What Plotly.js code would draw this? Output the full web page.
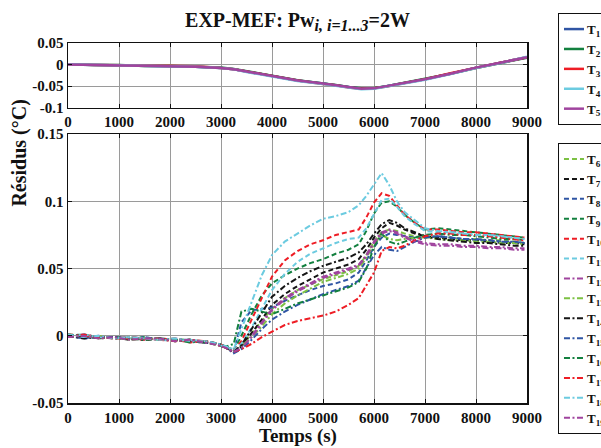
<!DOCTYPE html>
<html>
<head>
<meta charset="utf-8">
<script src="https://cdn.plot.ly/plotly-3.0.1.min.js"></script>
<style>html,body{margin:0;padding:0;background:#fff;}#chart{width:601px;height:448px;}</style>
</head>
<body>
<div id="chart"></div>
<script>
// ---------- Data ----------
var tTop = [0,500,1000,1500,2000,2500,3000,3250,3500,4000,4500,5000,5250,5500,5750,6000,6250,6500,7000,7500,8000,8500,9000];
var T1 = [0.000,-0.001,-0.002,-0.002,-0.004,-0.005,-0.008,-0.011,-0.016,-0.027,-0.037,-0.044,-0.048,-0.052,-0.056,-0.055,-0.050,-0.045,-0.034,-0.021,-0.007,0.005,0.017];
var T2 = [0.001,-0.001,-0.001,-0.003,-0.003,-0.005,-0.007,-0.010,-0.015,-0.026,-0.036,-0.044,-0.047,-0.052,-0.055,-0.054,-0.050,-0.044,-0.033,-0.021,-0.008,0.004,0.016];
var T3 = [0.000,-0.001,-0.002,-0.003,-0.004,-0.004,-0.008,-0.011,-0.016,-0.027,-0.037,-0.045,-0.048,-0.053,-0.056,-0.055,-0.051,-0.045,-0.034,-0.020,-0.007,0.005,0.017];
var T4 = [0.001,0.000,-0.002,-0.002,-0.003,-0.005,-0.008,-0.011,-0.017,-0.028,-0.038,-0.045,-0.049,-0.053,-0.057,-0.056,-0.051,-0.046,-0.035,-0.022,-0.008,0.004,0.018];
var T5 = [0.000,-0.001,-0.002,-0.003,-0.004,-0.005,-0.008,-0.011,-0.016,-0.027,-0.037,-0.044,-0.048,-0.052,-0.056,-0.055,-0.050,-0.045,-0.034,-0.021,-0.007,0.005,0.017];

var tBot = [0,300,600,900,1200,1500,1800,2100,2400,2700,2950,3100,3250,3400,3600,3800,4000,4250,4500,4750,5000,5250,5500,5700,5850,6000,6150,6300,6450,6600,6800,7000,7250,7500,7750,8000,8250,8500,8750,8950];
var T6  = [0.001,-0.001,0.000,-0.002,-0.001,-0.002,-0.003,-0.002,-0.004,-0.004,-0.006,-0.008,-0.011,-0.007,0.002,0.011,0.020,0.028,0.034,0.038,0.042,0.045,0.048,0.052,0.060,0.070,0.077,0.079,0.078,0.076,0.074,0.073,0.074,0.073,0.072,0.072,0.071,0.071,0.070,0.069];
var T7  = [-0.001,0.000,-0.002,-0.001,-0.003,-0.002,-0.002,-0.004,-0.003,-0.005,-0.007,-0.009,-0.012,-0.008,0.002,0.012,0.023,0.031,0.037,0.042,0.047,0.050,0.053,0.057,0.064,0.073,0.080,0.084,0.082,0.079,0.076,0.074,0.073,0.072,0.071,0.071,0.070,0.069,0.069,0.068];
var T8  = [0.000,-0.002,-0.001,-0.001,-0.002,-0.003,-0.002,-0.003,-0.004,-0.005,-0.006,-0.008,-0.012,0.010,0.019,0.020,0.021,0.026,0.030,0.034,0.037,0.039,0.042,0.047,0.056,0.066,0.073,0.076,0.075,0.074,0.073,0.073,0.074,0.073,0.072,0.071,0.071,0.070,0.070,0.069];
var T9  = [0.000,0.001,-0.001,-0.001,-0.002,-0.001,-0.003,-0.003,-0.003,-0.005,-0.006,-0.008,-0.011,0.000,0.016,0.030,0.039,0.045,0.050,0.054,0.057,0.061,0.064,0.068,0.078,0.091,0.099,0.100,0.096,0.090,0.084,0.079,0.080,0.079,0.078,0.077,0.076,0.075,0.074,0.073];
var T10 = [0.001,0.000,-0.001,-0.002,-0.002,-0.003,-0.002,-0.003,-0.005,-0.004,-0.006,-0.008,-0.011,-0.004,0.012,0.028,0.044,0.056,0.063,0.068,0.071,0.075,0.077,0.079,0.088,0.099,0.106,0.104,0.097,0.090,0.084,0.079,0.079,0.078,0.077,0.077,0.076,0.075,0.074,0.073];
var T11 = [-0.001,0.001,-0.001,-0.002,-0.001,-0.002,-0.003,-0.004,-0.003,-0.004,-0.007,-0.008,-0.011,-0.006,0.006,0.020,0.034,0.046,0.055,0.061,0.065,0.069,0.072,0.073,0.080,0.091,0.101,0.102,0.096,0.089,0.083,0.078,0.077,0.077,0.076,0.075,0.075,0.074,0.073,0.072];
var T12 = [0.001,-0.001,0.000,-0.002,-0.001,-0.002,-0.003,-0.002,-0.004,-0.004,-0.006,-0.009,-0.012,-0.009,0.000,0.010,0.020,0.028,0.034,0.039,0.044,0.047,0.050,0.053,0.060,0.070,0.077,0.079,0.077,0.074,0.071,0.069,0.068,0.068,0.067,0.067,0.066,0.066,0.065,0.065];
var T13 = [-0.001,0.000,-0.002,-0.001,-0.003,-0.002,-0.002,-0.004,-0.003,-0.005,-0.007,-0.009,-0.012,-0.008,-0.001,0.007,0.016,0.024,0.030,0.035,0.040,0.043,0.046,0.050,0.058,0.068,0.075,0.072,0.071,0.072,0.073,0.073,0.072,0.071,0.071,0.070,0.070,0.069,0.069,0.068];
var T14 = [0.000,-0.002,-0.001,-0.001,-0.002,-0.003,-0.002,-0.003,-0.004,-0.005,-0.006,-0.009,-0.012,-0.007,0.005,0.017,0.029,0.037,0.043,0.048,0.052,0.055,0.058,0.062,0.068,0.076,0.083,0.086,0.084,0.080,0.077,0.074,0.072,0.071,0.070,0.069,0.069,0.068,0.067,0.067];
var T15 = [0.000,0.001,-0.001,-0.001,-0.002,-0.001,-0.003,-0.003,-0.003,-0.005,-0.006,-0.009,-0.013,-0.010,-0.003,0.005,0.012,0.018,0.023,0.027,0.031,0.034,0.037,0.041,0.050,0.060,0.066,0.064,0.063,0.066,0.070,0.073,0.074,0.073,0.072,0.072,0.071,0.070,0.070,0.069];
var T16 = [0.001,0.000,-0.001,-0.002,-0.002,-0.003,-0.002,-0.003,-0.005,-0.004,-0.006,-0.008,-0.006,0.018,0.020,0.018,0.016,0.020,0.024,0.027,0.030,0.033,0.036,0.040,0.050,0.066,0.076,0.070,0.068,0.070,0.073,0.075,0.076,0.075,0.075,0.074,0.073,0.072,0.072,0.071];
var T17 = [-0.001,0.001,-0.001,-0.002,-0.001,-0.002,-0.003,-0.004,-0.003,-0.004,-0.007,-0.009,-0.012,-0.010,-0.006,-0.001,0.003,0.008,0.011,0.013,0.015,0.018,0.023,0.028,0.037,0.047,0.063,0.066,0.065,0.067,0.071,0.074,0.076,0.076,0.075,0.075,0.074,0.073,0.072,0.071];
var T18 = [0.001,-0.001,0.000,-0.002,-0.001,-0.002,-0.003,-0.002,-0.004,-0.004,-0.006,-0.008,-0.010,0.005,0.025,0.045,0.060,0.070,0.076,0.082,0.087,0.089,0.092,0.097,0.104,0.113,0.121,0.112,0.100,0.092,0.086,0.080,0.078,0.077,0.076,0.075,0.075,0.074,0.073,0.072];
var T19 = [-0.001,0.000,-0.002,-0.001,-0.003,-0.002,-0.002,-0.004,-0.003,-0.005,-0.007,-0.009,-0.012,-0.009,-0.001,0.009,0.019,0.027,0.033,0.038,0.043,0.046,0.049,0.052,0.059,0.069,0.076,0.078,0.076,0.073,0.070,0.068,0.067,0.067,0.066,0.066,0.065,0.065,0.064,0.064];

var xTicks = [0,1000,2000,3000,4000,5000,6000,7000,8000,9000];
var yTopTicks = [-0.1,-0.05,0,0.05];
var yTopText = ['-0.1','-0.05','0','0.05'];
var yBotTicks = [-0.05,0,0.05,0.1,0.15];
var yBotText = ['-0.05','0','0.05','0.1','0.15'];

var titleText = 'EXP-MEF: Pw<sub><span style="font-size:16px"><i>i, i=1...3</i></span></sub>=2W';
var yLabel = 'Résidus (°C)';
var xLabel = 'Temps (s)';

// ---------- Styles ----------
var C = {blue:'#2f55a4', green:'#13803f', red:'#ee1d25', cyan:'#6ccbe0', purple:'#a0449e', lgreen:'#7cc143', black:'#151515'};
var FAM = '"Liberation Serif", "Times New Roman", serif';
var DASH = '5px,3px';
var DASHDOT = '6px,2.5px,2px,2.5px';

var topSeries = [
  {y:T1, name:'T<sub>1</sub>', color:C.blue},
  {y:T2, name:'T<sub>2</sub>', color:C.green},
  {y:T3, name:'T<sub>3</sub>', color:C.red},
  {y:T4, name:'T<sub>4</sub>', color:C.cyan},
  {y:T5, name:'T<sub>5</sub>', color:C.purple}
];
var botSeries = [
  {y:T6,  name:'T<sub>6</sub>',  color:C.lgreen, dash:DASH},
  {y:T7,  name:'T<sub>7</sub>',  color:C.black,  dash:DASH},
  {y:T8,  name:'T<sub>8</sub>',  color:C.blue,   dash:DASH},
  {y:T9,  name:'T<sub>9</sub>',  color:C.green,  dash:DASH},
  {y:T10, name:'T<sub>10</sub>', color:C.red,    dash:DASH},
  {y:T11, name:'T<sub>11</sub>', color:C.cyan,   dash:DASH},
  {y:T12, name:'T<sub>12</sub>', color:C.purple, dash:DASHDOT},
  {y:T13, name:'T<sub>13</sub>', color:C.lgreen, dash:DASHDOT},
  {y:T14, name:'T<sub>14</sub>', color:C.black,  dash:DASHDOT},
  {y:T15, name:'T<sub>15</sub>', color:C.blue,   dash:DASHDOT},
  {y:T16, name:'T<sub>16</sub>', color:C.green,  dash:DASHDOT},
  {y:T17, name:'T<sub>17</sub>', color:C.red,    dash:DASHDOT},
  {y:T18, name:'T<sub>18</sub>', color:C.cyan,   dash:DASHDOT},
  {y:T19, name:'T<sub>19</sub>', color:C.purple, dash:DASHDOT}
];

var traces = [];
topSeries.forEach(function(s){
  traces.push({type:'scatter', mode:'lines', x:tTop, y:s.y, name:s.name, xaxis:'x2', yaxis:'y2',
    line:{color:s.color, width:2.5}, legend:'legend'});
});
botSeries.forEach(function(s){
  traces.push({type:'scatter', mode:'lines', x:tBot, y:s.y, name:s.name, xaxis:'x', yaxis:'y',
    line:{color:s.color, width:2, dash:s.dash}, legend:'legend2'});
});

var tickFont = {family:FAM, size:15, color:'#111', weight:'bold'};
function axisBase(){
  return {showgrid:true, gridcolor:'#9a9a9a', gridwidth:1, zeroline:false,
    showline:true, linecolor:'#111', linewidth:1.5, mirror:'ticks',
    ticks:'inside', ticklen:4, tickcolor:'#111', tickfont:tickFont};
}
var xa = axisBase(); xa.domain=[0,1]; xa.anchor='y'; xa.range=[0,9000]; xa.tickvals=xTicks; xa.ticktext=xTicks.map(String);
var xa2 = axisBase(); xa2.domain=[0,1]; xa2.anchor='y2'; xa2.range=[0,9000]; xa2.tickvals=xTicks; xa2.ticktext=xTicks.map(String);
var ya = axisBase(); ya.domain=[0,0.747]; ya.anchor='x'; ya.range=[-0.05,0.15]; ya.tickvals=yBotTicks; ya.ticktext=yBotText;
var ya2 = axisBase(); ya2.domain=[0.82,1]; ya2.anchor='x2'; ya2.range=[-0.1,0.05]; ya2.tickvals=yTopTicks; ya2.ticktext=yTopText;

var legFont = {family:FAM, size:13, color:'#111', weight:'bold'};
var layout = {
  width:601, height:448,
  margin:{l:68, r:74, t:43, b:45, autoexpand:false},
  paper_bgcolor:'#fff', plot_bgcolor:'#fff',
  showlegend:true,
  title:{text:titleText, font:{family:FAM, size:20, color:'#111', weight:'bold'},
    xref:'paper', x:0.5, xanchor:'center', yref:'container', y:0.955, yanchor:'middle'},
  xaxis:xa, yaxis:ya, xaxis2:xa2, yaxis2:ya2,
  legend:{x:1.0675, xanchor:'left', y:1.083, yanchor:'top', bordercolor:'#111', borderwidth:1,
    bgcolor:'#fff', font:legFont, itemwidth:30, tracegroupgap:0},
  legend2:{x:1.0675, xanchor:'left', y:0.722, yanchor:'top', bordercolor:'#111', borderwidth:1,
    bgcolor:'#fff', font:legFont, itemwidth:30, tracegroupgap:0},
  annotations:[
    {text:yLabel, xref:'paper', yref:'paper', x:-0.105, y:0.695, xanchor:'center', yanchor:'middle',
      textangle:-90, showarrow:false, font:{family:FAM, size:20, color:'#111', weight:'bold'}},
    {text:xLabel, xref:'paper', yref:'paper', x:0.5, y:-0.092, xanchor:'center', yanchor:'middle',
      showarrow:false, font:{family:FAM, size:19, color:'#111', weight:'bold'}}
  ]
};

var gdEl = document.getElementById('chart');
function compactLegends(){
  gdEl.querySelectorAll('g.legendlines path, g.legend2lines path').forEach(function(p){
    if (p.getAttribute('d') !== 'M5,0h20') p.setAttribute('d','M5,0h20');
  });
  gdEl.querySelectorAll('text.legendtext, text.legend2text').forEach(function(tx){
    if (tx.getAttribute('x') !== '28') tx.setAttribute('x', '28');
  });
}
Plotly.newPlot('chart', traces, layout, {displayModeBar:false, staticPlot:true}).then(function(){
  compactLegends();
  if (gdEl.on) gdEl.on('plotly_afterplot', compactLegends);
  setTimeout(compactLegends, 30);
});
</script>
</body>
</html>
